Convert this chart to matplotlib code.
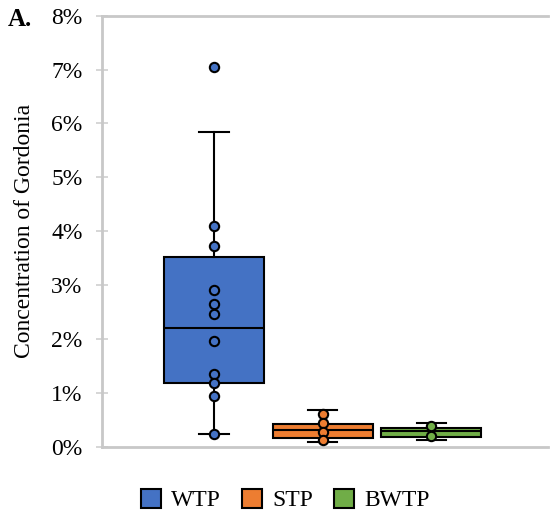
import numpy as np
import matplotlib
matplotlib.use('Agg')
import matplotlib.pyplot as plt
from matplotlib.ticker import PercentFormatter
from matplotlib.patches import Patch

# groups and colours
groups = ['WTP', 'STP', 'BWTP']
colors = ['#4472C4', '#ED7D31', '#70AD47']

# box statistics (fraction)
q1 = [0.0119, 0.0017, 0.0019]
med = [0.0220, 0.0031, 0.0029]
q3 = [0.0353, 0.0043, 0.0036]
whislo = [0.0024, 0.0010, 0.0013]
whishi = [0.0584, 0.0069, 0.0045]

# individual points shown on each box
pts_wtp = [0.0705, 0.0409, 0.0373, 0.0291, 0.0265, 0.0246, 0.0196, 0.0136, 0.0119, 0.0095, 0.0024]
pts_stp = [0.0062, 0.0044, 0.0027, 0.0013]
pts_bwtp = [0.0039, 0.0021]
pts_l = [pts_wtp, pts_stp, pts_bwtp]

plt.rcParams['font.family'] = ['Liberation Serif', 'DejaVu Serif']
fs = 17

fig = plt.figure(figsize=(5.5, 5.21), dpi=100)
ax = fig.add_axes([0.1855, 0.142, 0.81, 0.828])

pos = np.arange(len(groups)) - 1.0
stats = []
for i, g in enumerate(groups):
    stats.append(dict(label=g, q1=q1[i], med=med[i], q3=q3[i],
                      whislo=whislo[i], whishi=whishi[i], fliers=[]))

bp = ax.bxp(stats, positions=pos, widths=0.92, patch_artist=True,
            showfliers=False, capwidths=0.27,
            boxprops=dict(linewidth=1.5, edgecolor='black'),
            medianprops=dict(color='black', linewidth=1.5),
            whiskerprops=dict(color='black', linewidth=1.5),
            capprops=dict(color='black', linewidth=1.5))
for patch, c in zip(bp['boxes'], colors):
    patch.set_facecolor(c)

for i, p in enumerate(pts_l):
    ax.scatter(np.full(len(p), pos[i]), p, s=45, color=colors[i],
               edgecolor='black', linewidth=1.5, zorder=5)

ax.set_xlim(-2.03, 2.07)
ax.set_ylim(0, 0.08)
ax.set_yticks(np.arange(0, 0.081, 0.01))
ax.yaxis.set_major_formatter(PercentFormatter(xmax=1, decimals=0))
ax.set_xticks([])
ax.tick_params(axis='y', labelsize=fs, direction='inout', length=8,
               width=1.2, color='#D0D0D0', pad=10)

for s in ['left', 'top', 'bottom']:
    ax.spines[s].set_color('#C8C8C8')
    ax.spines[s].set_linewidth(2.0)
ax.spines['right'].set_visible(False)

ax.set_ylabel('Concentration of Gordonia', fontsize=fs, labelpad=12)

fig.text(0.014, 0.962, 'A.', fontsize=18, fontweight='bold', va='center')

handles = [Patch(facecolor=c, edgecolor='black', linewidth=1.5) for c in colors]
fig.legend(handles, groups, loc='center', bbox_to_anchor=(0.519, 0.04),
           ncol=3, frameon=False, fontsize=fs, handlelength=0.85,
           handleheight=0.85, handletextpad=0.42, columnspacing=0.9)

fig.savefig('out.png', dpi=100)
